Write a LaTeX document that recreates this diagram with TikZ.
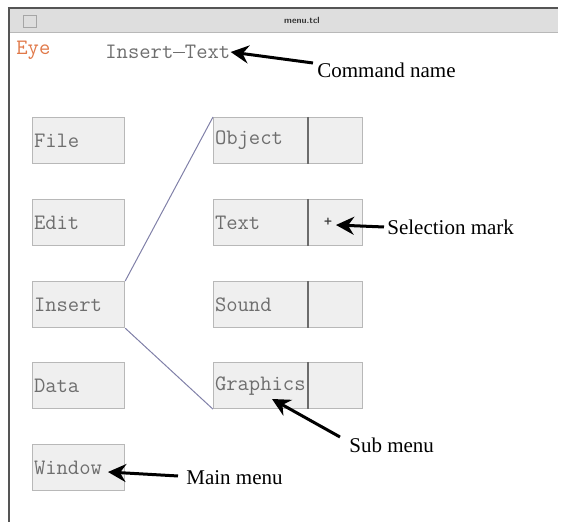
\documentclass[tikz,border=0pt]{standalone}
\usepackage{fontspec}
\setmainfont{Liberation Serif}
\newcommand{\menufont}{\ttfamily}
\usetikzlibrary{arrows.meta}
\definecolor{barfill}{HTML}{DEDEDE}
\definecolor{frame}{HTML}{555555}
\definecolor{boxfill}{HTML}{EFEFEF}
\definecolor{boxline}{HTML}{B8B8B8}
\definecolor{menutext}{HTML}{6E6E6E}
\definecolor{eyecol}{HTML}{E07848}
\definecolor{linkcol}{HTML}{8080A8}
\tikzset{
  x=0.5pt, y=-0.5pt,
  menubox/.style={draw=boxline, fill=boxfill, line width=0.6pt,
    minimum width=46pt, minimum height=23pt, text width=44.6pt, align=left,
    inner xsep=0.7pt, inner ysep=0pt, anchor=north west,
    font=\menufont\fontsize{11}{11}\selectfont, text=menutext},
  subbox/.style={menubox, minimum width=47.5pt, text width=46.1pt},
  cellbox/.style={draw=boxline, fill=boxfill, line width=0.6pt,
    minimum width=27pt, minimum height=23pt, inner sep=0pt, anchor=north west},
  divider/.style={draw=gray!85!black, line width=0.6pt},
  link/.style={draw=linkcol, line width=0.5pt},
  arr/.style={line width=1.5pt, -{Stealth[length=9pt, width=9pt, inset=3pt]}},
  lbl/.style={font=\fontsize{10.5}{12}\selectfont, inner sep=0pt, anchor=west},
}
\begin{document}
\begin{tikzpicture}
\useasboundingbox (0,0) rectangle (564,522);
% window frame
\fill[barfill] (8,8) rectangle (558,33);
\draw[boxline, line width=0.5pt] (10,33) -- (558,33);
\draw[frame, line width=1pt] (8,8) -- (558,8);
\draw[frame, line width=1pt] (9,8) -- (9,522);
\draw[gray!70, line width=0.4pt] (23,15) rectangle (36,27);
\node[font=\sffamily\bfseries\fontsize{4.5}{5}\selectfont, text=black!80, inner sep=0pt] (title) at (302,20) {menu.tcl};
% header
\node[font=\menufont\fontsize{11}{11}\selectfont, text=eyecol, inner sep=0pt, anchor=west] (eye) at (16,50) {Eye};
\node[font=\menufont\fontsize{11}{11}\selectfont, text=menutext, inner sep=0pt, anchor=west] (cmdtext) at (105,52) {Insert\rule[2.6pt]{5.78pt}{0.55pt}Text};
% main menu
\node[menubox] (file) at (32,117) {File};
\node[menubox] (edit) at (32,199) {Edit};
\node[menubox] (ins)  at (32,281) {Insert};
\node[menubox] (data) at (32,362) {Data};
\node[menubox] (win)  at (32,444) {Window};
% sub menu
\node[subbox] (obj) at (213,117) {Object};
\node[cellbox] (objc) at (308,117) {};
\node[subbox] (txt) at (213,199) {Text};
\node[cellbox] (txtc) at (308,199) {};
\node[subbox] (snd) at (213,281) {Sound};
\node[cellbox] (sndc) at (308,281) {};
\node[subbox] (gra) at (213,362) {Graphics};
\node[cellbox] (grac) at (308,362) {};
\foreach \c in {objc,txtc,sndc,grac} \draw[divider] (\c.north west) -- (\c.south west);
\node[font=\menufont\bfseries\fontsize{8}{9}\selectfont, text=black!75, inner sep=0pt] (mark) at (328,222) {+};
% links
\draw[link] (ins.north east) -- (obj.north west);
\draw[link] (ins.south east) -- (gra.south west);
% labels
\node[lbl] (cmd) at (317,70) {Command name};
\node[lbl] (sel) at (387,227) {Selection mark};
\node[lbl] (sub) at (349,445) {Sub menu};
\node[lbl] (mainl) at (186,478) {Main menu};
\coordinate (cmdtail) at (313,63);
\coordinate (seltail) at (384,227);
\coordinate (subtail) at (340,437);
\coordinate (maintail) at (178,476);
\coordinate (selhead) at (336,225);
\coordinate (subhead) at (272,399);
\coordinate (mainhead) at (108,472);
\draw[arr] (cmdtail) -- (cmdtext.east);
\draw[arr] (seltail) -- (selhead);
\draw[arr] (subtail) -- (subhead);
\draw[arr] (maintail) -- (mainhead);
\end{tikzpicture}
\end{document}
